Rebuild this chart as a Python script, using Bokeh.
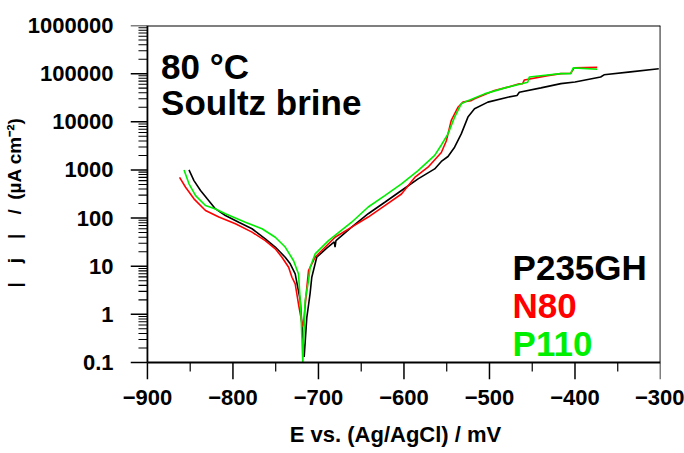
import math
from bokeh.plotting import figure
from bokeh.models import FixedTicker, CustomJSTickFormatter, Label, Range1d
from bokeh.embed import file_html
from bokeh.resources import INLINE

# ---------------- data ----------------
p235_E = [-851.4, -845.6, -837.9, -830.1, -820.4, -808.8, -793.2, -777.7, -762.2, -750.5,
          -738.9, -733.0, -727.2, -721.4, -716.7, -713.6, -709.8, -707.8, -702.0, -690.0,
          -681.5, -680.6, -679.5, -661.2, -641.8, -622.4, -602.9, -583.5, -564.1, -556.3,
          -548.5, -540.8, -533.0, -525.2, -517.5, -501.9, -478.6, -467.8, -465.1, -439.8,
          -416.5, -400.0, -370.0, -366.0, -335.0, -302.0]
p235_j = [1000, 600, 374, 251, 155, 113, 82, 60, 37, 25,
          15.4, 11.2, 6.9, 2.0, 0.13, 0.87, 2.7, 5.9, 15.4, 24,
          32, 25, 34, 65, 123, 213, 374, 653, 1050, 1500,
          1900, 2970, 5600, 12500, 18600, 25600, 32400, 35300, 41000, 50700,
          62000, 67000, 85000, 94600, 109000, 126000]

n80_E = [-862.4, -855.4, -845.6, -832.1, -816.5, -797.1, -777.7, -762.2, -750.5, -742.7,
         -734.9, -731.0, -727.2, -723.0, -718.5, -717.5, -713.6, -711.6, -703.9, -680.6,
         -661.2, -641.8, -622.4, -602.9, -587.4, -571.9, -556.3, -550.5, -544.7, -536.9,
         -531.0, -521.4, -517.5, -494.2, -478.6, -465.1, -461.2, -459.2, -432.0, -416.5,
         -405.0, -401.0, -374.0]
n80_j = [700, 436, 251, 144, 105, 76, 51, 34, 23, 15.4,
         9.5, 5.9, 4.3, 1.5, 0.56, 0.63, 3.6, 8.1, 15.4, 40,
         65, 105, 182, 316, 700, 1140, 2300, 4000, 10700, 20000,
         25700, 27500, 30000, 44700, 52500, 61700, 62000, 74000, 91000, 100000,
         102000, 132000, 135000]

p110_E = [-857.2, -851.4, -843.7, -832.1, -820.4, -808.8, -785.5, -766.0, -750.5, -738.9,
          -729.1, -723.3, -720.6, -718.3, -715.6, -711.6, -709.7, -703.9, -688.3, -661.2,
          -641.8, -622.4, -602.9, -583.5, -564.1, -556.3, -548.5, -540.8, -533.0, -525.2,
          -505.8, -478.6, -455.3, -453.4, -416.5, -405.0, -402.0, -374.0]
p110_j = [1000, 515, 293, 182, 155, 123, 82, 60, 40, 25,
          13, 6.9, 1.2, 0.1, 1.95, 5, 9.5, 18, 34, 82,
          170, 293, 515, 970, 2000, 3300, 5600, 12500, 23600, 27500,
          38000, 52500, 66500, 85000, 100000, 100000, 132000, 123000]

series_names = ["P235GH", "N80", "P110"]
series_colors = ["#000000", "#ff0000", "#00ee00"]

x_ticks = [-900, -800, -700, -600, -500, -400, -300]
x_minor = [-850, -750, -650, -550, -450, -350]
y_ticks = [0.1, 1, 10, 100, 1000, 10000, 100000, 1000000]
y_minor = [k * 10.0 ** d for d in range(-1, 6) for k in range(2, 10)]

FONT = "Liberation Sans"

# layout (pixels): axes box x=145..660, y=25..362; ticks 17px / 9px outside the box
W, H = 684, 453
BOX_L, BOX_R, BOX_T, BOX_B = 145, 660, 25, 362
TICK, MINOR = 17, 9
x0, x1 = x_ticks[0], x_ticks[-1]
y0, y1 = y_ticks[0], y_ticks[-1]
px_per_mV = (BOX_R - BOX_L) / (x1 - x0)
px_per_dec = (BOX_B - BOX_T) / (math.log10(y1) - math.log10(y0))
x_start = x0 - TICK / px_per_mV
x_minor_end = x0 - MINOR / px_per_mV
y_start = 10 ** (math.log10(y0) - TICK / px_per_dec)
y_minor_end = 10 ** (math.log10(y0) - MINOR / px_per_dec)
hw_x = 0.75 / px_per_mV     # half tick thickness in mV
hw_y = 0.75 / px_per_dec    # half tick thickness in decades

p = figure(width=W, height=H, output_backend="svg", toolbar_location=None,
           y_axis_type="log", x_range=Range1d(x_start, x1), y_range=Range1d(y_start, y1),
           min_border_left=BOX_L - TICK, min_border_right=W - BOX_R,
           min_border_top=BOX_T, min_border_bottom=H - BOX_B - TICK)
p.grid.visible = False
p.outline_line_color = None
p.border_fill_color = "white"
p.background_fill_color = "white"

for E, j, c in zip([p235_E, n80_E, p110_E], [p235_j, n80_j, p110_j], series_colors):
    p.line(E, j, line_color=c, line_width=1.6)

# ticks as thin filled bars outside the box
p.quad(left=[t - hw_x for t in x_ticks], right=[t + hw_x for t in x_ticks],
       bottom=[y_start] * len(x_ticks), top=[y0] * len(x_ticks),
       fill_color="black", line_color=None)
p.quad(left=[t - hw_x * 0.8 for t in x_minor], right=[t + hw_x * 0.8 for t in x_minor],
       bottom=[y_minor_end] * len(x_minor), top=[y0] * len(x_minor),
       fill_color="black", line_color=None)
p.quad(left=[x_start] * len(y_ticks), right=[x0] * len(y_ticks),
       bottom=[10 ** (math.log10(t) - hw_y) for t in y_ticks],
       top=[10 ** (math.log10(t) + hw_y) for t in y_ticks],
       fill_color="black", line_color=None)
p.quad(left=[x_minor_end] * len(y_minor), right=[x0] * len(y_minor),
       bottom=[10 ** (math.log10(t) - hw_y * 0.7) for t in y_minor],
       top=[10 ** (math.log10(t) + hw_y * 0.7) for t in y_minor],
       fill_color="black", line_color=None)

# axes box
p.segment(x0=[x0, x0, x0, x1], y0=[y0, y0, y1, y0], x1=[x1, x0, x1, x1], y1=[y0, y1, y1, y1],
          line_color="black", line_width=1.8)

for ax in [p.xaxis[0], p.yaxis[0]]:
    ax.axis_line_color = None
    ax.major_tick_line_color = None
    ax.minor_tick_line_color = None
    ax.major_tick_in = 0
    ax.minor_tick_in = 0
    ax.major_tick_out = 0
    ax.minor_tick_out = 0
    ax.major_label_text_font = FONT
    ax.major_label_text_font_style = "bold"
    ax.major_label_text_color = "black"
    ax.axis_label_text_font = FONT
    ax.axis_label_text_font_style = "bold"
    ax.axis_label_text_color = "black"

p.xaxis[0].ticker = FixedTicker(ticks=x_ticks)
p.xaxis[0].major_label_text_font_size = "22px"
p.xaxis[0].major_label_standoff = 10
p.xaxis[0].axis_label = "E vs. (Ag/AgCl) / mV"
p.xaxis[0].axis_label_text_font_size = "22px"
p.xaxis[0].axis_label_standoff = 14

p.yaxis[0].ticker = FixedTicker(ticks=y_ticks)
p.yaxis[0].formatter = CustomJSTickFormatter(code="return tick >= 1 ? tick.toFixed(0) : tick.toString();")
p.yaxis[0].major_label_text_font_size = "22px"
p.yaxis[0].major_label_standoff = 17
p.yaxis[0].axis_label = "|\u2003j\u2003|\u2003/\u2002(µA cm\u207b\u00b2)"
p.yaxis[0].axis_label_text_font_size = "19px"
p.yaxis[0].axis_label_standoff = 0

def add_label(x, y, text, color="black"):
    p.add_layout(Label(x=x, y=y, text=text, text_font=FONT, text_font_style="bold",
                       text_font_size="35px", text_color=color, text_baseline="alphabetic",
                       text_align="left"))

add_label(-884, 140000, "80 °C")
add_label(-884, 25000, "Soultz brine")
add_label(-473, 9.5, series_names[0], series_colors[0])
add_label(-473, 1.53, series_names[1], series_colors[1])
add_label(-473, 0.25, series_names[2], series_colors[2])

open("out.html", "w").write(file_html(p, INLINE))
